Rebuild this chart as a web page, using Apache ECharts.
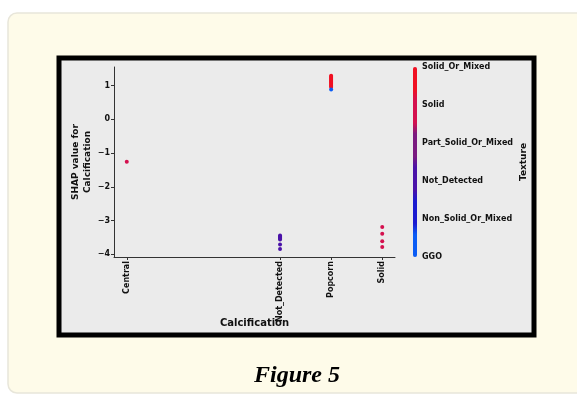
<!DOCTYPE html>
<html>
<head>
<meta charset="utf-8">
<script src="https://cdn.jsdelivr.net/npm/echarts@6/dist/echarts.min.js"></script>
<style>
  html, body { margin: 0; padding: 0; background: #ffffff; }
  #chart { width: 577px; height: 395px; }
</style>
</head>
<body>
<div id="chart"></div>
<script>
// categories on the x axis (encoded positions) and their labels
const calcPositions = [0, 3, 4, 5];
const calcLabels = ['Central', 'Not_Detected', 'Popcorn', 'Solid'];

// texture categories, bottom to top of the colour bar
const textureLabels = ['GGO', 'Non_Solid_Or_Mixed', 'Not_Detected', 'Part_Solid_Or_Mixed', 'Solid', 'Solid_Or_Mixed'];
const textureColors = ['#0a5cf5', '#1a1ad0', '#4a12a8', '#7a1a80', '#d4104e', '#f01022'];

const yTicks = [-4, -3, -2, -1, 0, 1];

// SHAP values per calcification group, with texture code of each point
const centralShap = [-1.26];
const centralTex = [4];
const notDetectedShap = [-3.44, -3.47, -3.50, -3.53, -3.56, -3.71, -3.84];
const notDetectedTex = [2, 2, 2, 2, 2, 2, 2];
const popcornShap = [1.29, 1.26, 1.23, 1.20, 1.17, 1.14, 1.11, 1.08, 1.05, 1.02, 0.99, 0.96, 0.88];
const popcornTex = [5, 5, 5, 5, 5, 5, 5, 5, 5, 5, 5, 5, 0];
const solidShap = [-3.19, -3.39, -3.61, -3.78];
const solidTex = [4, 4, 4, 4];

const groups = [
  [0, centralShap, centralTex],
  [3, notDetectedShap, notDetectedTex],
  [4, popcornShap, popcornTex],
  [5, solidShap, solidTex],
];
const points = [];
groups.forEach(([x, ys, ts]) => {
  ys.forEach((y, i) => points.push([x, y, ts[i]]));
});

// stepped colour list so the bar shows flat blocks
const steppedColors = [];
textureColors.forEach((c) => steppedColors.push(c, c, c));

const chart = echarts.init(document.getElementById('chart'));

const labelFont = { fontFamily: 'DejaVu Sans', fontSize: 8, fontWeight: 'bold', color: '#111' };

chart.setOption({
  animation: false,
  graphic: [
    {
      type: 'rect', z: -10,
      shape: { x: 8, y: 13, width: 620, height: 380, r: 9 },
      style: { fill: '#fefbe9', stroke: '#e8e6da', lineWidth: 1.5 },
    },
    {
      type: 'rect', z: -9,
      shape: { x: 59, y: 58, width: 475, height: 277 },
      style: { fill: '#ebebeb', stroke: '#000', lineWidth: 5 },
    },
    {
      type: 'text', z: 5,
      x: 297, y: 376,
      style: {
        text: 'Figure 5',
        font: 'italic bold 24px "Liberation Serif"',
        fill: '#000',
        textAlign: 'center',
        textVerticalAlign: 'middle',
      },
    },
  ],
  grid: [
    { left: 114, top: 67, width: 281, height: 190 },
    { left: 413, top: 67, width: 4, height: 190 },
  ],
  xAxis: [
    {
      gridIndex: 0,
      type: 'value',
      min: -0.25,
      max: 5.25,
      name: 'Calcification',
      nameLocation: 'middle',
      nameGap: 61,
      nameMoveOverlap: false,
      nameTextStyle: { fontFamily: 'DejaVu Sans', fontSize: 10, fontWeight: 'bold', color: '#111' },
      splitLine: { show: false },
      axisLine: { show: true, onZero: false, lineStyle: { color: '#333', width: 1 } },
      axisTick: { show: true, length: 3, customValues: calcPositions, lineStyle: { color: '#333' } },
      axisLabel: {
        ...labelFont,
        rotate: 90,
        margin: 4,
        customValues: calcPositions,
        formatter: (v) => calcLabels[calcPositions.indexOf(v)] || '',
      },
    },
    { gridIndex: 1, type: 'value', show: false },
  ],
  yAxis: [
    {
      gridIndex: 0,
      type: 'value',
      min: -4.08,
      max: 1.55,
      name: 'SHAP value for\nCalcification',
      nameLocation: 'middle',
      nameGap: 20,
      nameMoveOverlap: false,
      nameTextStyle: { fontFamily: 'DejaVu Sans', fontSize: 9, fontWeight: 'bold', color: '#111', lineHeight: 12 },
      splitLine: { show: false },
      axisLine: { show: true, onZero: false, lineStyle: { color: '#333', width: 1 } },
      axisTick: { show: true, length: 3, customValues: yTicks, lineStyle: { color: '#333' } },
      axisLabel: {
        ...labelFont,
        margin: 4,
        customValues: yTicks,
        formatter: (v) => String(v).replace('-', '\u2212'),
      },
    },
    {
      gridIndex: 1,
      type: 'value',
      min: 0,
      max: 5,
      interval: 1,
      position: 'right',
      name: 'Texture',
      nameLocation: 'middle',
      nameRotate: 90,
      nameGap: 102,
      nameMoveOverlap: false,
      nameTextStyle: { fontFamily: 'DejaVu Sans', fontSize: 9, fontWeight: 'bold', color: '#111' },
      splitLine: { show: false },
      axisLine: { show: false },
      axisTick: { show: false },
      axisLabel: {
        ...labelFont,
        margin: 5,
        formatter: (v) => textureLabels[v],
      },
    },
  ],
  visualMap: {
    type: 'continuous',
    seriesIndex: 0,
    dimension: 2,
    min: 0,
    max: 5,
    left: 413,
    top: 67,
    itemWidth: 4,
    itemHeight: 190,
    padding: 0,
    text: null,
    showLabel: false,
    calculable: false,
    inRange: { color: steppedColors },
  },
  series: [
    {
      type: 'scatter',
      xAxisIndex: 0,
      yAxisIndex: 0,
      symbolSize: 4,
      itemStyle: { opacity: 1 },
      data: points,
    },
  ],
});
</script>
</body>
</html>
